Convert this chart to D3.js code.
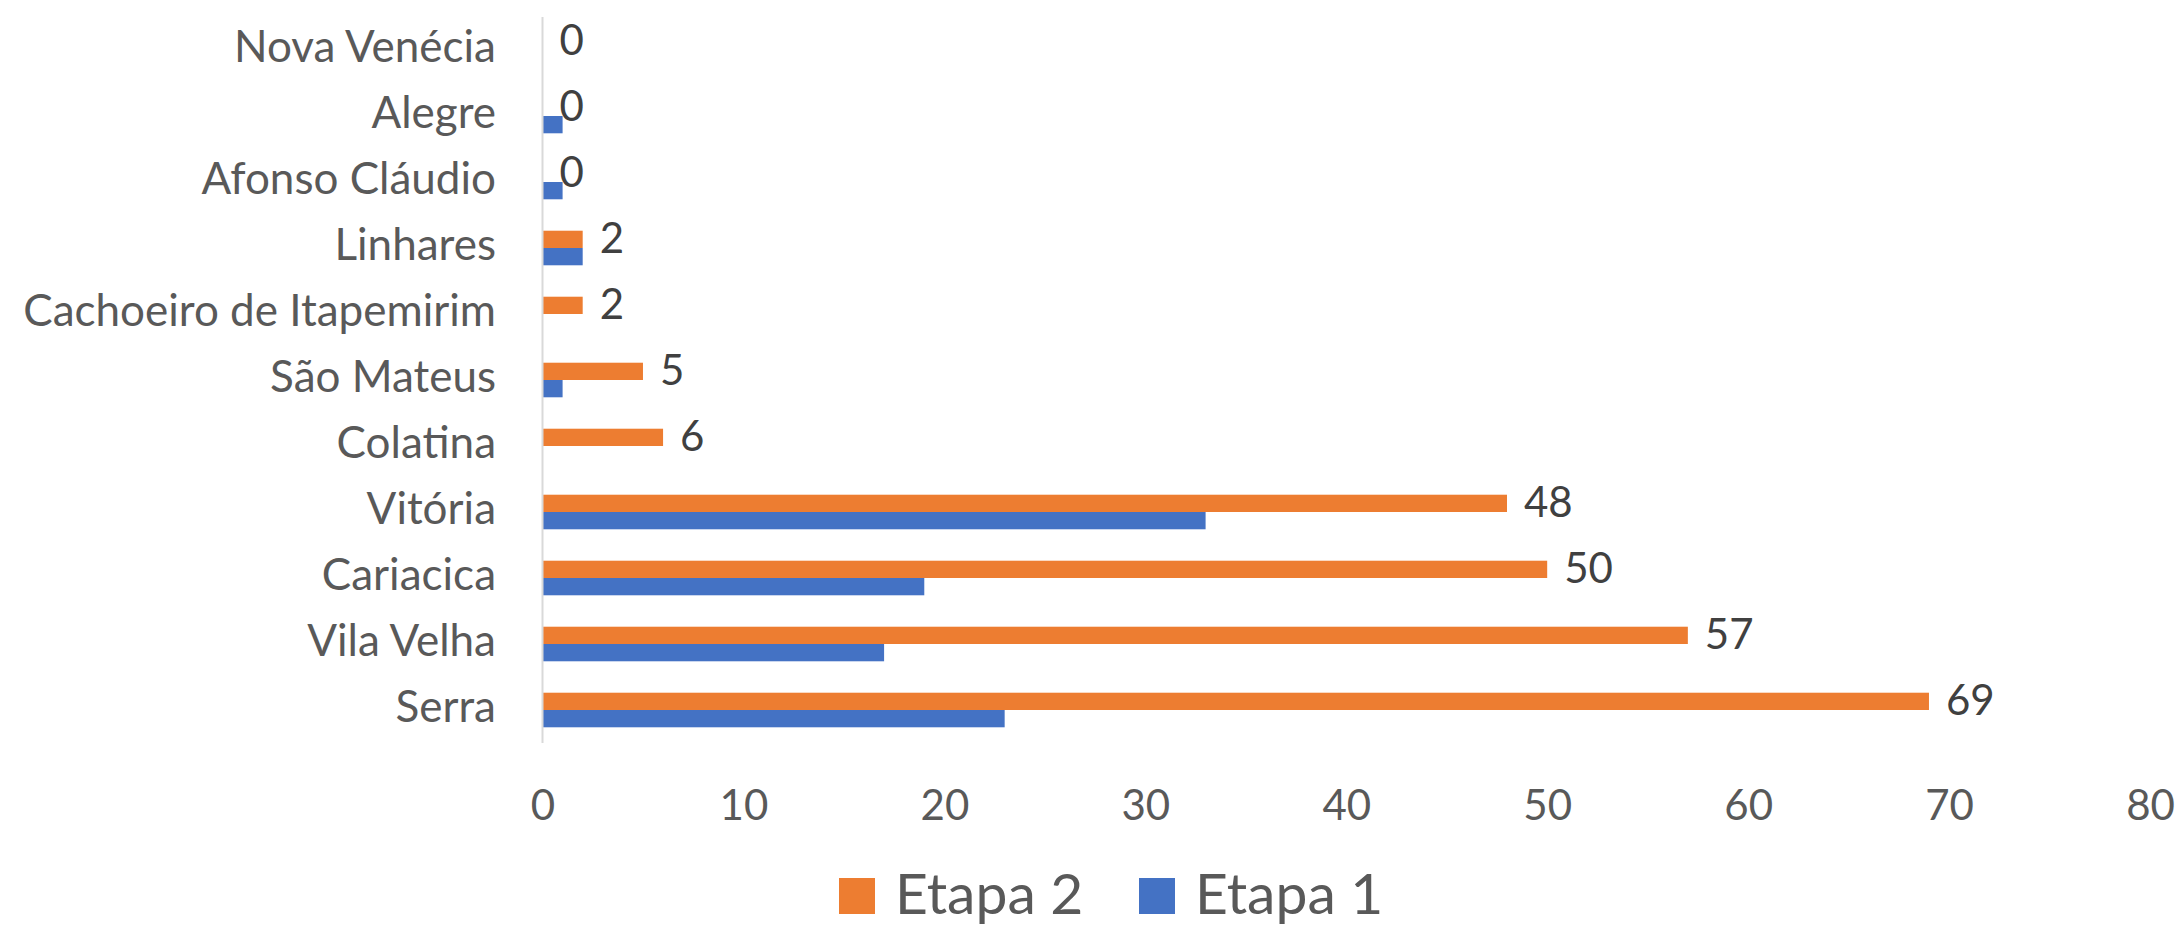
<!DOCTYPE html>
<html>
<head>
<meta charset="utf-8">
<script src="https://cdnjs.cloudflare.com/ajax/libs/d3/7.8.5/d3.min.js"></script>
<style>
  html, body { margin: 0; padding: 0; background: #ffffff; }
  svg { display: block; }
</style>
</head>
<body>
<svg id="chart" width="2180" height="925"></svg>
<script>
// Categories, top to bottom as drawn
const categories = ["Nova Venécia", "Alegre", "Afonso Cláudio", "Linhares", "Cachoeiro de Itapemirim", "São Mateus", "Colatina", "Vitória", "Cariacica", "Vila Velha", "Serra"];
const etapa2 = [0, 0, 0, 2, 2, 5, 6, 48, 50, 57, 69];
const etapa1 = [0, 1, 1, 2, 0, 1, 0, 33, 19, 17, 23];
const seriesNames = ["Etapa 2", "Etapa 1"];
const xTicks = [0, 10, 20, 30, 40, 50, 60, 70, 80];

const colors = { "Etapa 2": "#ED7D31", "Etapa 1": "#4472C4" };
const FONT = "Lato, 'Open Sans', sans-serif";

const svg = d3.select("#chart");
const W = 2180, H = 925;
svg.append("rect").attr("width", W).attr("height", H).attr("fill", "#ffffff");

const plot = { left: 542.5, right: 2150, top: 17, bottom: 743 };

const x = d3.scaleLinear().domain([0, 80]).range([plot.left, plot.right]);
const gap = 0.476;
const y = d3.scaleBand().domain(categories).range([plot.top, plot.bottom])
  .paddingInner(gap).paddingOuter(gap / 2);
const sub = d3.scaleBand().domain(seriesNames).range([0, y.bandwidth()]);

const rows = categories.map((c, i) => ({ cat: c, "Etapa 2": etapa2[i], "Etapa 1": etapa1[i] }));

// Bars
const g = svg.append("g");
rows.forEach(r => {
  seriesNames.forEach(s => {
    g.append("rect")
      .attr("x", x(0))
      .attr("y", y(r.cat) + sub(s))
      .attr("width", x(r[s]) - x(0))
      .attr("height", sub.bandwidth())
      .attr("fill", colors[s]);
  });
});

// Vertical axis line
svg.append("line")
  .attr("x1", x(0)).attr("x2", x(0))
  .attr("y1", plot.top).attr("y2", plot.bottom)
  .attr("stroke", "#d9d9d9").attr("stroke-width", 2);

// Category labels
const catSize = 44;
svg.append("g").selectAll("text").data(categories).join("text")
  .attr("x", 496)
  .attr("y", d => y(d) + y.bandwidth() / 2 - 3.5 + catSize * 0.7165 / 2)
  .attr("text-anchor", "end")
  .attr("font-family", FONT)
  .attr("font-size", catSize)
  .attr("fill", "#595959")
  .text(d => d);

// X tick labels via axis
const xAxis = d3.axisBottom(x).tickValues(xTicks).tickSize(0).tickPadding(0).tickFormat(d3.format("d"));
const ax = svg.append("g").attr("transform", "translate(0,0)").call(xAxis);
ax.select(".domain").remove();
ax.selectAll("text")
  .attr("y", 820)
  .attr("dy", null)
  .attr("font-family", FONT)
  .attr("font-size", 42)
  .attr("fill", "#595959");

// Data labels (Etapa 2)
const lblSize = 42;
svg.append("g").selectAll("text").data(rows).join("text")
  .attr("x", d => x(d["Etapa 2"]) + 17)
  .attr("y", d => y(d.cat) + sub("Etapa 2") + sub.bandwidth() / 2 - 1 + lblSize * 0.7165 / 2)
  .attr("font-family", FONT)
  .attr("font-size", lblSize)
  .attr("fill", "#404040")
  .text(d => d["Etapa 2"]);

// Legend
const legend = [{ name: "Etapa 2", sx: 839, tx: 895 }, { name: "Etapa 1", sx: 1139, tx: 1195 }];
const lg = svg.append("g");
legend.forEach(l => {
  lg.append("rect").attr("x", l.sx).attr("y", 878).attr("width", 36).attr("height", 36).attr("fill", colors[l.name]);
  lg.append("text").attr("x", l.tx).attr("y", 914)
    .attr("font-family", FONT).attr("font-size", 57).attr("fill", "#595959").text(l.name);
});
</script>
</body>
</html>
